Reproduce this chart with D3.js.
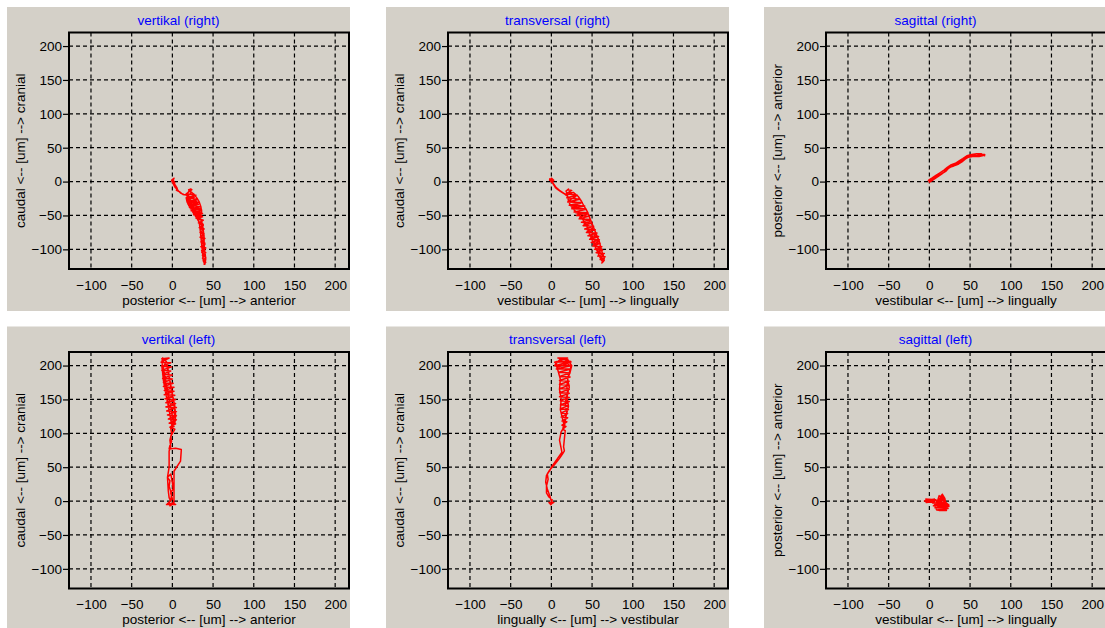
<!DOCTYPE html>
<html>
<head>
<meta charset="utf-8">
<script src="https://cdn.jsdelivr.net/npm/d3@7"></script>
<style>
  body { margin: 0; background: #fff; }
  text { font-family: "Liberation Sans", Arial, sans-serif; }
</style>
</head>
<body>
<svg id="chart" width="1105" height="628"></svg>
<script>
// Titles and axis captions, in panel order (top row, then bottom row).
const titles = ["vertikal (right)", "transversal (right)", "sagittal (right)",
                "vertikal (left)", "transversal (left)", "sagittal (left)"];
const xLabels = ["posterior <-- [um] --> anterior", "vestibular <-- [um] --> lingually", "vestibular <-- [um] --> lingually",
                 "posterior <-- [um] --> anterior", "lingually <-- [um] --> vestibular", "vestibular <-- [um] --> lingually"];
const yLabels = ["caudal <-- [um] --> cranial", "caudal <-- [um] --> cranial", "posterior <-- [um] --> anterior",
                 "caudal <-- [um] --> cranial", "caudal <-- [um] --> cranial", "posterior <-- [um] --> anterior"];

const xTicks = [-100, -50, 0, 50, 100, 150, 200];
const yTicks = [-100, -50, 0, 50, 100, 150, 200];

// Traces, [x, y] in um.
const vertikalRight = [
  [0,0],[2,5],[1,2],[3,-2],[0,1],[4,-6],[6,-10],[5,-13],[9,-15],[13,-19],[17,-20],[19,-17],[21,-12],[23,-11],
  [20,-12],[24,-12],[17,-18],[29,-20],[18,-24],[31,-26],[18,-30],[33,-31],[20,-35],[35,-37],[22,-40],[36,-42],
  [25,-45],[37,-47],[28,-50],[37,-52],[31,-54],[38,-57],[34,-60],[38,-63],[34,-67],[39,-70],[35,-74],[39,-77],
  [35,-81],[40,-84],[36,-88],[40,-91],[36,-95],[41,-98],[36,-102],[41,-105],[37,-109],[41,-112],[38,-116],
  [41,-119],[39,-122],[40,-118],[37,-113],[40,-108],[36,-104],[40,-100],[35,-96],[40,-93],[35,-89],[39,-86],
  [34,-82],[39,-79],[34,-75],[38,-72],[33,-68],[38,-65],[32,-61],[37,-58],[29,-54],[36,-50],[26,-49],[35,-45],
  [23,-43],[34,-40],[21,-38],[32,-34],[19,-33],[30,-29],[19,-28],[27,-23],[18,-22],[24,-16],[21,-14],
  [26,-18],[30,-24],[33,-30],[35,-37],[36,-45],[33,-52],[29,-49],[25,-44],[21,-37],[18,-30],[17,-24],
  [20,-27],[24,-33],[27,-40],[30,-46],[33,-51],[35,-56],[37,-63],[38,-72],[39,-82],[39,-93],[40,-104],[41,-114],
  [40,-122],[38,-117],[37,-105],[36,-93],[35,-81],[34,-70],[33,-60],[30,-54],[26,-47],[22,-38],[20,-29],[19,-20],
  [14,-19],[10,-17],[7,-13],[3,-8],[1,-3],[-1,2],[1,4]
];
const transversalRight = [
  [-3,2],[3,2],[0,5],[0,-1],[-2,4],[2,0],[0,2],[2,-3],[5,-9],[8,-12],[12,-15],[16,-18],[20,-20],[18,-14],[21,-11],
  [20,-12],[25,-13],[18,-18],[32,-20],[19,-24],[35,-26],[20,-30],[38,-31],[22,-35],[41,-36],[25,-40],[43,-41],
  [28,-45],[45,-46],[31,-50],[47,-51],[34,-55],[48,-56],[37,-60],[50,-61],[39,-65],[52,-66],[41,-70],[54,-71],
  [43,-75],[56,-76],[45,-80],[58,-81],[47,-85],[59,-86],[49,-90],[60,-91],[51,-95],[62,-96],[53,-100],[63,-101],
  [55,-105],[65,-106],[57,-110],[66,-111],[60,-115],[65,-116],[62,-120],[64,-118],[61,-112],[64,-108],[56,-102],
  [61,-98],[52,-93],[58,-88],[48,-84],[55,-78],[44,-73],[52,-68],[40,-63],[48,-58],[35,-53],[44,-48],[30,-46],
  [40,-40],[24,-36],[36,-32],[21,-28],[30,-22],[22,-17],[27,-16],[33,-22],[37,-29],[40,-36],[44,-44],[47,-53],
  [50,-62],[53,-71],[56,-80],[59,-89],[61,-98],[63,-107],[65,-114],[62,-117],[59,-110],[56,-102],[53,-94],
  [50,-86],[47,-78],[45,-70],[42,-62],[38,-55],[33,-48],[28,-42],[24,-36],[21,-29],[20,-22],[15,-17],[10,-13],
  [6,-9],[3,-4],[1,0]
];
const sagittalRight = [
  [-2,1],[3,3],[8,7],[13,10],[18,14],[22,18],[25,21],[30,23],[35,27],[40,31],[43,35],[47,37],[52,38],[56,38],
  [60,39],[64,40],[68,40],[65,38],[61,37],[57,37],[53,37],[48,36],[44,33],[40,29],[36,26],[32,24],[27,22],
  [23,19],[20,15],[16,12],[11,9],[6,5],[1,1],[0,-1],[5,3],[10,7],[15,11],[20,16],[24,20],[29,24],[34,26],
  [38,29],[42,32],[46,35],[50,37],[56,39],[62,38],[66,39],[68,38],[64,41],[58,41],[52,40],[46,38],[41,34],
  [37,31],[32,27],[27,25],[22,21],[18,17],[13,13],[8,9],[3,5],[-1,2]
];
const vertikalLeft = [
  [-8,-5],[4,-5],[0,-3],[-3,-7],[1,-4],[2,2],[2,20],[2,44],[10,59],[11,76],[4,78],[-4,77],[-3,82],[-1,88],
  [-2,95],[0,100],[3,106],[-3,109],[4,114],[-4,115],[5,120],[-5,121],[5,126],[-6,127],[5,132],[-7,133],
  [5,138],[-8,139],[4,144],[-8,145],[4,150],[-9,151],[3,156],[-10,157],[2,162],[-10,163],[2,168],[-11,169],
  [1,174],[-11,175],[0,180],[-12,181],[0,186],[-12,187],[-2,192],[-13,193],[-1,198],[-13,199],[-2,204],
  [-14,205],[-4,211],[-13,210],[-9,208],[-12,211],[-13,205],[-11,195],[-9,182],[-7,170],[-5,158],[-3,145],
  [-1,132],[1,120],[2,110],[-1,115],[-3,128],[-5,140],[-7,152],[-9,165],[-11,178],[-12,190],[-13,200],
  [-10,210],[-7,205],[-5,192],[-3,178],[-1,165],[1,152],[3,140],[4,126],[3,114],[0,108],[-2,120],[-4,135],
  [-6,150],[-8,165],[-10,180],[-12,195],[-9,203],[-6,196],[-4,183],[-2,170],[0,157],[2,145],[3,130],[1,118],
  [-2,108],[-1,100],[-3,90],[-2,80],[-4,74],[-4,50],[-6,35],[-5,15],[-4,5],[-2,0],[-1,10],[-4,22],[-3,30],
  [-6,35],[-2,40],[0,28],[1,18],[-2,12],[0,3],[-6,-4],[3,-3]
];
const transversalLeft = [
  [0,-6],[-3,-2],[3,-2],[0,-4],[1,2],[-3,6],[-6,12],[-6,22],[-4,32],[-5,40],[-2,46],[4,54],[10,63],[14,70],
  [16,74],[15,80],[16,92],[17,104],[14,106],[18,110],[13,112],[19,117],[13,118],[20,123],[12,124],[20,129],
  [12,130],[21,135],[11,136],[21,141],[11,142],[22,147],[11,148],[22,153],[10,154],[22,159],[10,160],[22,165],
  [10,166],[22,171],[10,172],[22,177],[10,178],[23,183],[10,184],[23,189],[9,190],[24,195],[6,195],[25,200],
  [5,200],[24,206],[4,205],[20,211],[8,211],[14,210],[24,205],[9,198],[4,200],[12,211],[20,209],[25,200],
  [23,190],[20,180],[22,168],[19,155],[21,140],[18,125],[16,110],[14,120],[11,135],[12,150],[10,165],[11,180],
  [8,193],[5,204],[10,207],[18,206],[24,198],[21,185],[19,170],[20,158],[17,145],[19,132],[16,118],[14,106],
  [12,102],[10,90],[13,72],[7,62],[1,52],[-2,45],[-6,38],[-7,28],[-5,18],[-2,8],[0,0]
];
const sagittalLeft = [
  [-5,3],[8,2],[-6,0],[6,-1],[-4,-2],[9,1],[11,-3],[4,-3],[22,-4],[5,-7],[24,-8],[7,-10],[23,-11],[9,-13],
  [21,-14],[12,-14],[20,-10],[10,-8],[21,-6],[8,-5],[20,-2],[10,-1],[19,2],[12,3],[18,6],[14,7],[16,10],
  [17,4],[11,0],[23,-5],[18,-13],[22,-10],[24,-6],[20,-2],[19,4],[16,10],[14,5],[12,8],[10,0],[14,-5],
  [20,-8],[16,-11],[10,-9],[13,-3],[18,-5],[21,-12],[15,-14],[9,-13],[6,-6],[11,2],[17,6],[18,0],[22,-4],
  [17,-9],[12,-7],[9,-4],[5,-3],[0,0],[-5,1],[7,3]
];
const traces = [vertikalRight, transversalRight, sagittalRight, vertikalLeft, transversalLeft, sagittalLeft];

const panelW = 343, panelH = 304;
const colX = [7, 386, 764];
const rowY = [7, 326.5];
const frame = { left: 62, top: 25.5, right: 342, bottom: 262 };

const x = d3.scaleLinear().domain([-127, 217]).range([frame.left, frame.right]);
const y = d3.scaleLinear().domain([-129, 220]).range([frame.bottom, frame.top]);

const line = d3.line().x(d => x(d[0])).y(d => y(d[1]));

const svg = d3.select("#chart");

titles.forEach((title, i) => {
  const g = svg.append("g")
      .attr("transform", "translate(" + colX[i % 3] + "," + rowY[Math.floor(i / 3)] + ")");

  g.append("rect")
      .attr("width", panelW)
      .attr("height", panelH)
      .attr("fill", "#d4d0c8");

  // dashed grid
  g.selectAll(".vgrid").data(xTicks).enter().append("line")
      .attr("x1", d => x(d)).attr("x2", d => x(d))
      .attr("y1", frame.top).attr("y2", frame.bottom)
      .attr("stroke", "#000").attr("stroke-width", 1.2).attr("stroke-dasharray", "4,3");
  g.selectAll(".hgrid").data(yTicks).enter().append("line")
      .attr("x1", frame.left).attr("x2", frame.right)
      .attr("y1", d => y(d)).attr("y2", d => y(d))
      .attr("stroke", "#000").attr("stroke-width", 1.2).attr("stroke-dasharray", "4,3");

  // axes
  const yAxis = g.append("g")
      .attr("transform", "translate(" + frame.left + ",0)")
      .call(d3.axisLeft(y).tickValues(yTicks).tickSize(6).tickPadding(1));
  const xAxis = g.append("g")
      .attr("transform", "translate(0," + frame.bottom + ")")
      .call(d3.axisBottom(x).tickValues(xTicks).tickSize(0).tickPadding(11));
  [yAxis, xAxis].forEach(a => {
    a.select(".domain").remove();
    a.selectAll("text").attr("font-size", 13.5).attr("fill", "#000")
        .style("font-family", "'Liberation Sans', Arial, sans-serif");
    a.selectAll("line").attr("stroke", "#000").attr("stroke-width", 1.2);
  });

  // trace
  g.append("path")
      .datum(traces[i])
      .attr("d", line)
      .attr("fill", "none")
      .attr("stroke", "#ff0000")
      .attr("stroke-width", 1.5)
      .attr("stroke-linejoin", "round");

  // frame
  g.append("rect")
      .attr("x", frame.left).attr("y", frame.top)
      .attr("width", frame.right - frame.left)
      .attr("height", frame.bottom - frame.top)
      .attr("fill", "none")
      .attr("stroke", "#000")
      .attr("stroke-width", 2);

  g.append("text")
      .attr("x", panelW / 2).attr("y", 17.5)
      .attr("text-anchor", "middle")
      .attr("font-size", 13.5)
      .attr("fill", "#0000ff")
      .text(title);

  g.append("text")
      .attr("x", (frame.left + frame.right) / 2).attr("y", 297.5)
      .attr("text-anchor", "middle")
      .attr("font-size", 13.5)
      .attr("fill", "#000")
      .text(xLabels[i]);

  g.append("text")
      .attr("transform", "translate(17.5," + (frame.top + frame.bottom) / 2 + ") rotate(-90)")
      .attr("text-anchor", "middle")
      .attr("font-size", 13.5)
      .attr("fill", "#000")
      .text(yLabels[i]);
});
</script>
</body>
</html>
